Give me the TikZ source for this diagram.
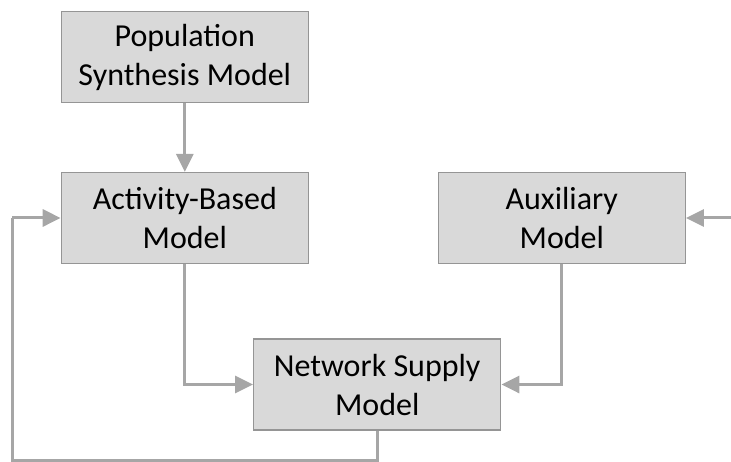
\documentclass[tikz,border=0pt]{standalone}
\usepackage{fontspec}
\setmainfont{Carlito}
\usetikzlibrary{arrows.meta}
\definecolor{boxfill}{HTML}{D9D9D9}
\definecolor{boxline}{HTML}{959595}
\definecolor{conn}{HTML}{A6A6A6}
\begin{document}
\begin{tikzpicture}[x=1pt,y=-1pt,
  modelbox/.style={draw=boxline, fill=boxfill, line width=1.3pt, minimum width=247pt, minimum height=91pt, align=center, inner sep=0pt, font=\fontsize{32}{39}\selectfont, text=black},
  conline/.style={draw=conn, line width=3pt},
  conarrow/.style={conline, -{Triangle[length=18pt,width=17pt]}}]
\useasboundingbox (0,0) rectangle (731,462);
\node[modelbox] (pop) at (184.8,57.2) {Population\\Synthesis Model};
\node[modelbox] (abm) at (184.8,218) {Activity-Based\\Model};
\node[modelbox] (aux) at (561.8,218) {Auxiliary\\Model};
\node[modelbox] (net) at (377.2,384.5) {Network Supply\\Model};
\coordinate (rin) at (731,218);
\coordinate (bl) at (12.3,460.7);
\coordinate (bm) at (377.2,460.7);
\draw[conarrow] (pop.south) -- (abm.north);
\draw[conarrow] (abm.south) |- (net.west);
\draw[conarrow] (aux.south) |- (net.east);
\draw[conarrow] (rin) -- (aux.east);
\draw[conline] (net.south) -- (bm) -- (bl) -- ([xshift=-0pt]bl |- abm.west);
\draw[conarrow] (bl |- abm.west) -- (abm.west);
\end{tikzpicture}
\end{document}
